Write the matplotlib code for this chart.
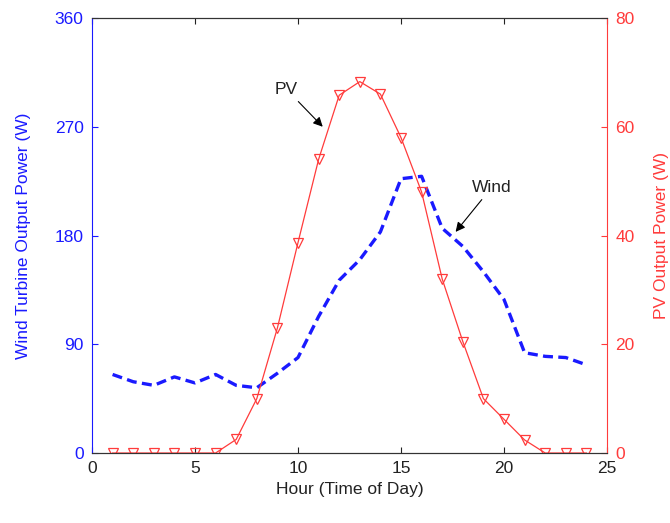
import matplotlib
matplotlib.use("Agg")
import matplotlib.pyplot as plt

plt.rcParams['font.family'] = ['Liberation Sans', 'DejaVu Sans']

hours = list(range(1, 25))
wind_power = [65, 59, 56, 63, 58, 65, 56, 54, 66, 79, 113, 143,
              160, 183, 227, 229, 186, 171, 150, 127, 83, 80, 79, 73]
pv_power = [0, 0, 0, 0, 0, 0, 2.5, 10, 23, 38.7, 54, 65.8,
            68.3, 66, 58, 48, 32, 20.5, 10, 6.2, 2.4, 0, 0, 0]

x_ticks = [0, 5, 10, 15, 20, 25]
wind_ticks = [0, 90, 180, 270, 360]
pv_ticks = [0, 20, 40, 60, 80]

blue = '#1a1aff'
red = '#ff3b3b'
fs = 12.5

fig = plt.figure(figsize=(6.7, 5.23), dpi=100)
ax = fig.add_axes([0.1373, 0.1338, 0.7687, 0.8318])
ax2 = ax.twinx()

ax.plot(hours, wind_power, color=blue, lw=2.4, ls=(0, (3, 1.6)))
ax2.plot(hours, pv_power, color=red, lw=0.9, marker='v', ms=7,
         mfc='none', mec=red, mew=0.9)

ax.set_xlim(0, 25)
ax.set_ylim(0, 360)
ax2.set_ylim(0, 80)
ax.set_xticks(x_ticks)
ax.set_yticks(wind_ticks)
ax2.set_yticks(pv_ticks)

ax.tick_params(axis='x', direction='in', top=True, labelsize=fs, colors='#222222', length=4, pad=6)
ax.tick_params(axis='y', direction='in', labelsize=fs, colors=blue, length=4, pad=6)
ax2.tick_params(axis='y', direction='in', labelsize=fs, colors=red, length=4, pad=6)

ax.spines['left'].set_color(blue)
ax2.spines['left'].set_visible(False)
ax.spines['right'].set_visible(False)
ax2.spines['right'].set_color(red)
for a in (ax, ax2):
    a.spines['top'].set_color('#333333')
    a.spines['bottom'].set_color('#333333')

ax.set_xlabel('Hour (Time of Day)', fontsize=fs, color='#222222')
ax.set_ylabel('Wind Turbine Output Power (W)', fontsize=fs, color=blue, labelpad=17)
ax2.set_ylabel('PV Output Power (W)', fontsize=fs, color=red, labelpad=14)

ax.annotate('PV', xy=(11.2, 270), xytext=(10.0, 301),
            fontsize=fs, color='#222222', ha='right', va='center',
            arrowprops=dict(arrowstyle='-|>', color='black', lw=0.8,
                            mutation_scale=14, shrinkA=2, shrinkB=0))
ax.annotate('Wind', xy=(17.65, 183), xytext=(18.45, 220),
            fontsize=fs, color='#222222', ha='left', va='center',
            arrowprops=dict(arrowstyle='-|>', color='black', lw=0.8,
                            mutation_scale=14, shrinkA=2, shrinkB=0))

fig.savefig('out.png', dpi=100)
